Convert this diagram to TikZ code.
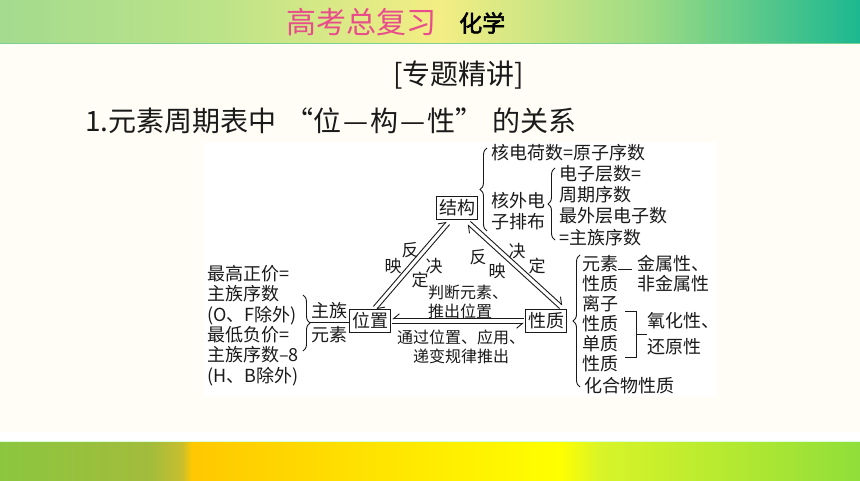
\documentclass[tikz,border=0pt]{standalone}
\usepackage{fontspec}
\newfontfamily\cjk{Noto Sans CJK SC}
\newfontfamily\cjkb[FakeBold=2.5]{Noto Sans CJK SC}
\usetikzlibrary{arrows.meta,decorations.pathreplacing,calc}
\definecolor{cream}{HTML}{FFFDF6}
\definecolor{hpink}{HTML}{E84C8B}
\definecolor{ink}{HTML}{1A1A1A}
\definecolor{hA}{HTML}{A4DB8E}
\definecolor{hB}{HTML}{BCE388}
\definecolor{hC}{HTML}{F4EE84}
\definecolor{hD}{HTML}{A0DC84}
\definecolor{hE}{HTML}{1CB890}
\definecolor{bA}{HTML}{8CC63F}
\definecolor{bB}{HTML}{A2BC3C}
\definecolor{bC}{HTML}{C9BE2E}
\definecolor{bD}{HTML}{FFC800}
\definecolor{bE}{HTML}{FFFF00}
\definecolor{bF}{HTML}{D8F428}
\definecolor{bG}{HTML}{90DE3A}
\tikzset{
  txt/.style={font=\cjk\fontsize{18}{20.4}\selectfont, inner sep=0pt, text=ink, align=left},
  mid/.style={font=\cjk\fontsize{16}{19}\selectfont, inner sep=0pt, text=ink},
  lab/.style={font=\cjk\fontsize{17}{17}\selectfont, inner sep=0pt, text=ink},
  box/.style={draw=ink, line width=1.2pt, font=\cjk\fontsize{18}{18}\selectfont, text=ink,
              inner xsep=2.5pt, inner ysep=3pt, minimum height=23pt},
  br/.style={draw=ink, line width=0.9pt, decorate, decoration={brace, amplitude=7pt}},
  ln/.style={draw=ink, line width=0.9pt},
  hpl/.style={draw=ink, line width=0.9pt, -{Straight Barb[harpoon, length=6pt, width=10pt]}},
  hpr/.style={draw=ink, line width=0.9pt, -{Straight Barb[harpoon, swap, length=6pt, width=10pt]}}
}
\begin{document}
\begin{tikzpicture}[x=1pt, y=-1pt]
\useasboundingbox (0,0) rectangle (860,481);
\fill[cream] (0,0) rectangle (860,481);
% header band
\shade[left color=hA, right color=hB] (0,0) rectangle (220,43);
\shade[left color=hB, right color=hC] (220,0) rectangle (440,43);
\shade[left color=hC, right color=hD] (440,0) rectangle (640,43);
\shade[left color=hD, right color=hE] (640,0) rectangle (860,43);
\draw[color=hA!70!hE, line width=1pt] (0,43.5) -- (860,43.5);
\node[anchor=west, inner sep=0pt, text=hpink, font=\cjk\fontsize{30}{30}\selectfont] (hd) at (286,22) {高考总复习};
\node[anchor=west, inner sep=0pt, text=black, font=\cjkb\fontsize{23}{23}\selectfont] (hx) at (459,23) {化学};
% bottom band
\fill[white] (0,432) rectangle (860,441);
\shade[left color=bA, right color=bB] (0,441) rectangle (150,481);
\shade[left color=bB, right color=bC] (150,441) rectangle (182,481);
\shade[left color=bC, right color=bD] (182,441) rectangle (192,481);
\shade[left color=bD, right color=bE] (192,441) rectangle (560,481);
\shade[left color=bE, right color=bF] (560,441) rectangle (600,481);
\shade[left color=bF, right color=bG] (600,441) rectangle (860,481);
\draw[color=green!15!white, line width=1pt] (0,441) -- (860,441);
% titles
\node[anchor=west, inner sep=0pt, text=ink, font=\cjk\fontsize{28}{28}\selectfont] (ttl) at (393,75) {[专题精讲]};
\node[anchor=west, inner sep=0pt, text=ink, font=\cjk\fontsize{28}{28}\selectfont] (sub) at (85,121) {1.元素周期表中\hspace{9pt}“位\hspace{2pt}—\hspace{2pt}构\hspace{2pt}—\hspace{2pt}性”\hspace{9pt}的关系};
% diagram background
\fill[white] (204,142) rectangle (717,397);
% boxes
\node[box] (jg) at (457,208) {结构};
\node[box] (wz) at (370,321) {位置};
\node[box] (xz) at (546,321) {性质};
% triangle connectors
\coordinate (L1) at ($(wz.north)+(5,-1)$);
\coordinate (L2) at ($(jg.south)+(-9,3)$);
\coordinate (R1) at ($(jg.south)+(12,3)$);
\coordinate (R2) at ($(xz.north)+(15,-2)$);
\coordinate (B1) at ($(wz.east)+(1,0)$);
\coordinate (B2) at ($(xz.west)+(-1,0)$);
\draw[hpl] ($(L1)+(-1.65,-1.45)$) -- ($(L2)+(-1.65,-1.45)$);
\draw[hpl] ($(L2)+(1.65,1.45)$) -- ($(L1)+(1.65,1.45)$);
\draw[hpl] ($(R1)+(1.47,-1.64)$) -- ($(R2)+(1.47,-1.64)$);
\draw[hpl] ($(R2)+(-1.47,1.64)$) -- ($(R1)+(-1.47,1.64)$);
\draw[hpr] ($(B2)+(0,-2.2)$) -- ($(B1)+(0,-2.2)$);
\draw[hpr] ($(B1)+(0,2.2)$) -- ($(B2)+(0,2.2)$);
% edge labels
\node[lab] (f1) at (410,250) {反};
\node[lab] (y1) at (393,266) {映};
\node[lab] (j1) at (434,266) {决};
\node[lab] (d1) at (420,280) {定};
\node[lab] (f2) at (478,257) {反};
\node[lab] (y2) at (497,271) {映};
\node[lab] (j2) at (517,251) {决};
\node[lab] (d2) at (537,266) {定};
\node[mid, align=left, anchor=north west] (pd) at (428,285) {判断元素、\\推出位置};
\node[mid, align=center, anchor=north] (tg) at (461,330) {通过位置、应用、\\递变规律推出};
% left side
\node[txt, anchor=north west] (lc) at (207,265) {最高正价=\\主族序数\\(O、F除外)\\最低负价=\\主族序数–8\\(H、B除外)};
\draw[br] (303,295) -- (303,351);
\coordinate (lbt) at (310,322);
\draw[ln] (lbt) -- (lbt -| wz.west);
\node[txt] (zz) at (329,311) {主族};
\node[txt] (ys) at (329,335) {元素};
% top right
\draw[br] (487,231) -- (487,148);
\node[txt, anchor=west] (hd1) at (491,153) {核电荷数=原子序数};
\node[txt, anchor=north west, font=\cjk\fontsize{18}{21}\selectfont] (hw) at (491,192) {核外电\\子排布};
\draw[br] (555,240) -- (555,168);
\node[txt, anchor=north west, font=\cjk\fontsize{18}{21.3}\selectfont] (dz) at (559,165) {电子层数=\\周期序数\\最外层电子数\\=主族序数};
% right side
\draw[br] (580,387) -- (580,255);
\node[txt, anchor=north west, font=\cjk\fontsize{18}{20}\selectfont] (rc) at (582,255) {元素\\性质\\离子\\性质\\单质\\性质};
\node[txt, anchor=west] (hh) at (584,386) {化合物性质};
\draw[ln] (618,269) -- (632,269);
\node[txt, anchor=north west, font=\cjk\fontsize{18}{20}\selectfont] (js) at (637,255) {金属性、\\非金属性};
\draw[ln] (625,311) -- (636,311) -- (636,357) -- (625,357);
\draw[ln] (636,334) -- (647,334);
\node[txt, anchor=west] (yh) at (647,321) {氧化性、};
\node[txt, anchor=west] (hy) at (647,347) {还原性};
\end{tikzpicture}
\end{document}
